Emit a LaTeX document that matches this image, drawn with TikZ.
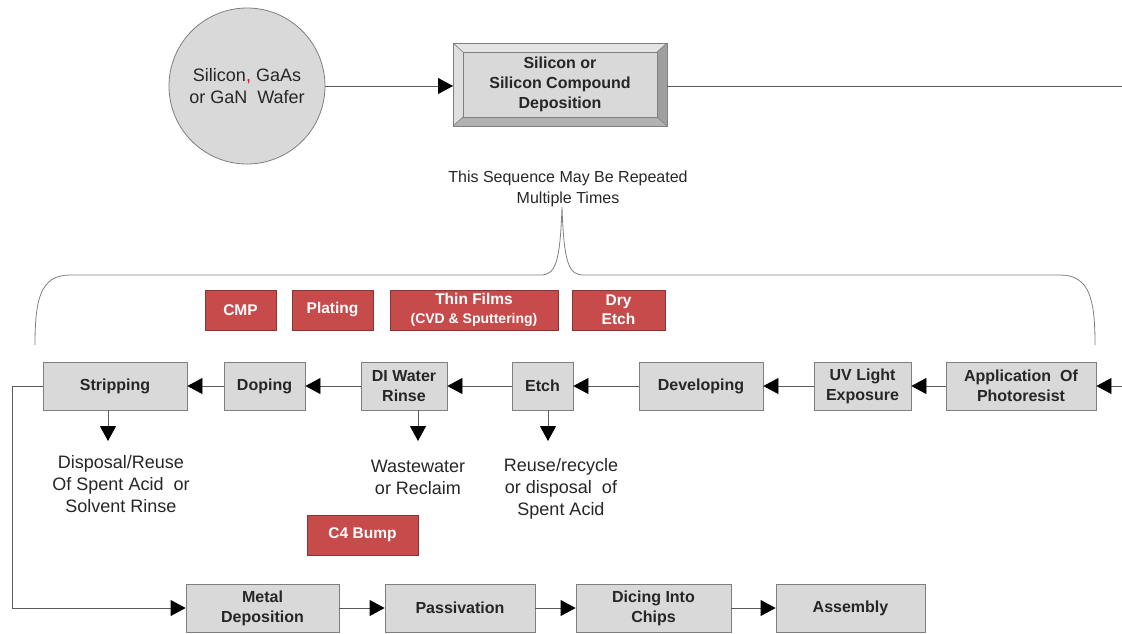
\documentclass[tikz,border=0pt]{standalone}
\usepackage{fontspec}
\setmainfont{Liberation Sans}
\usetikzlibrary{arrows.meta}
\definecolor{boxfill}{HTML}{D9D9D9}
\definecolor{boxline}{HTML}{7F7F7F}
\definecolor{redfill}{HTML}{C84B4B}
\definecolor{redline}{HTML}{8C3434}
\definecolor{lineg}{HTML}{5A5A5A}
\begin{document}
\begin{tikzpicture}[x=1pt,y=-1pt,
  graybox/.style={draw=boxline,fill=boxfill,line width=0.8pt,font=\bfseries\fontsize{16}{20}\selectfont,align=center,inner sep=0pt,text=black!85},
  redbox/.style={draw=redline,fill=redfill,line width=0.6pt,text=white,font=\bfseries\fontsize{15.5}{19}\selectfont,align=center,inner sep=0pt},
  lbl/.style={font=\fontsize{18}{22}\selectfont,align=center,text=black!85},
  conn/.style={draw=lineg,line width=0.8pt,-{Triangle[length=15pt,width=16pt,color=black,fill=black]}},
  plain/.style={draw=lineg,line width=0.8pt}]
\useasboundingbox (0,0) rectangle (1122,633);
% wafer circle
\node[circle,draw=boxline,fill=boxfill,line width=0.8pt,minimum size=156pt,inner sep=0pt,align=center,font=\fontsize{18}{22}\selectfont,text=black!85] (wafer) at (247,86) {Silicon\textcolor{red}{,} GaAs\\or GaN\ \ Wafer};
% bevelled deposition box
\fill[boxfill!70!white] (453,43) -- (667,43) -- (657,52) -- (463,52) -- cycle;
\fill[boxfill!85!white] (453,43) -- (463,52) -- (463,117) -- (453,126) -- cycle;
\fill[gray!75] (667,43) -- (667,126) -- (657,117) -- (657,52) -- cycle;
\fill[gray!60] (453,126) -- (667,126) -- (657,117) -- (463,117) -- cycle;
\draw[boxline,line width=0.6pt] (453,43) -- (463,52) (667,43) -- (657,52) (453,126) -- (463,117) (667,126) -- (657,117);
\node[graybox,minimum width=194pt,minimum height=65pt] (dep) at (560,84.5) {Silicon or\\Silicon Compound\\Deposition};
\draw[boxline,line width=0.8pt] (453,43) rectangle (667,126);
\coordinate (depL) at (453,86);
\coordinate (depR) at (667,86);
\coordinate (topEnd) at (1122,86);
\draw[conn] (wafer.east) -- (depL);
\draw[plain] (depR) -- (topEnd);
% repeated text and brace
\node[font=\fontsize{16}{21}\selectfont,align=center,text=black!85] (rep) at (568,189) {This Sequence May Be Repeated\\Multiple Times};
\draw[draw=gray,line width=0.8pt] (35,345) .. controls (35,300) and (40,275) .. (70,275) -- (540,275) .. controls (555,275) and (560,265) .. (562,207)
  .. controls (564,265) and (569,275) .. (584,275) -- (1060,275) .. controls (1090,275) and (1095,300) .. (1095,345);
% red boxes
\node[redbox,minimum width=71pt,minimum height=40pt] (cmp) at (240.5,310) {CMP};
\node[redbox,minimum width=81pt,minimum height=40pt] (plat) at (332.5,310) {Plating};
\node[redbox,minimum width=168pt,minimum height=40pt] (thin) at (474,310) {Thin Films\\{\fontsize{14}{17}\selectfont (CVD \& Sputtering)}};
\node[redbox,minimum width=93pt,minimum height=40pt] (dry) at (618.5,310) {Dry\\Etch};
\node[redbox,minimum width=111pt,minimum height=40pt] (c4) at (362.5,535) {C4 Bump};
% main row
\node[graybox,minimum width=144pt,minimum height=48pt] (strip) at (115,386) {Stripping};
\node[graybox,minimum width=81pt,minimum height=48pt] (dop) at (264.5,386) {Doping};
\node[graybox,minimum width=86pt,minimum height=48pt] (di) at (404,386) {DI Water\\Rinse};
\node[graybox,minimum width=61pt,minimum height=48pt] (etch) at (542.5,386) {Etch};
\node[graybox,minimum width=124pt,minimum height=48pt] (dev) at (701,386) {Developing};
\node[graybox,minimum width=97pt,minimum height=48pt] (uv) at (862.5,386) {UV Light\\Exposure};
\node[graybox,minimum width=150pt,minimum height=48pt] (app) at (1021,386) {Application\ \ Of\\Photoresist};
\coordinate (rowIn) at (1122,386);
\draw[conn] (rowIn) -- (app);
\draw[conn] (app) -- (uv);
\draw[conn] (uv) -- (dev);
\draw[conn] (dev) -- (etch);
\draw[conn] (etch) -- (di);
\draw[conn] (di) -- (dop);
\draw[conn] (dop) -- (strip);
% outputs
\coordinate (sA) at (108,410); \coordinate (sB) at (108,441);
\coordinate (wA) at (418,410); \coordinate (wB) at (418,441);
\coordinate (eA) at (548,410); \coordinate (eB) at (548,441);
\draw[conn] (sA) -- (sB);
\draw[conn] (wA) -- (wB);
\draw[conn] (eA) -- (eB);
\node[lbl] (sOut) at (121,484) {Disposal/Reuse\\Of Spent Acid\ \ or\\Solvent Rinse};
\node[lbl] (wOut) at (418,477.5) {Wastewater\\or Reclaim};
\node[lbl] (eOut) at (561,489) {Reuse/recycle\\or disposal\ \ of\\Spent Acid};
% bottom row
\node[graybox,minimum width=153pt,minimum height=48pt] (met) at (262.5,608) {Metal\\Deposition};
\node[graybox,minimum width=150pt,minimum height=48pt] (pas) at (460,608) {Passivation};
\node[graybox,minimum width=155pt,minimum height=48pt] (dic) at (653.5,608) {Dicing Into\\Chips};
\node[graybox,minimum width=149pt,minimum height=48pt] (asm) at (850.5,608) {Assembly};
\coordinate (c1) at (12,386);
\coordinate (c2) at (12,608);
\draw[conn] (strip.west) -- (c1) -- (c2) -- (met.west);
\draw[conn] (met) -- (pas);
\draw[conn] (pas) -- (dic);
\draw[conn] (dic) -- (asm);
\end{tikzpicture}
\end{document}
